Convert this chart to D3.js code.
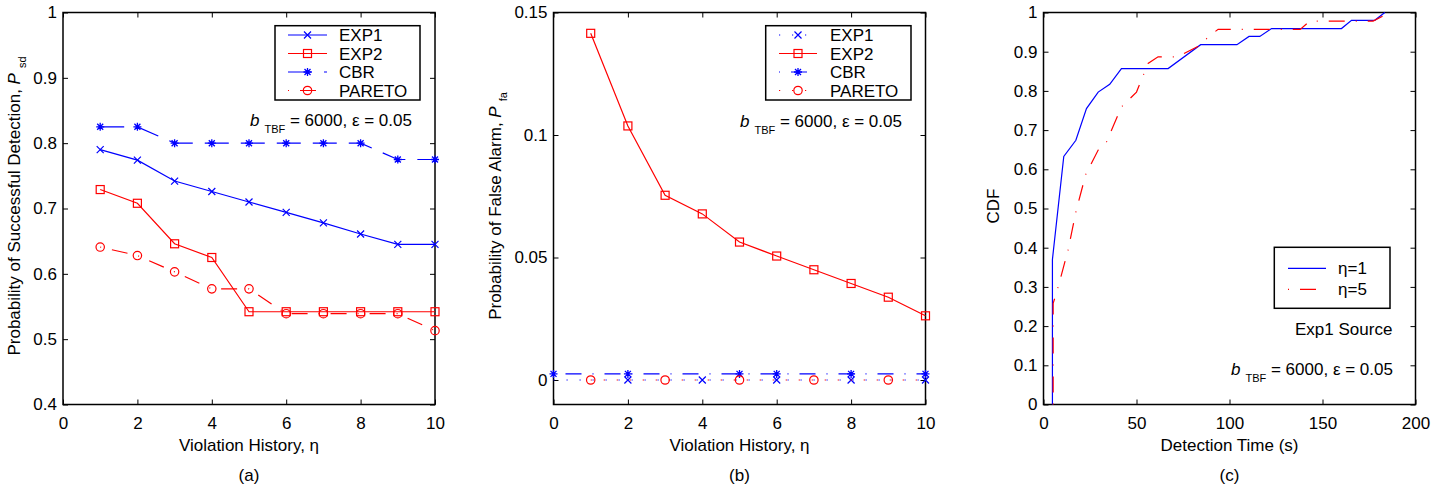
<!DOCTYPE html>
<html>
<head>
<meta charset="utf-8">
<script src="https://cdn.jsdelivr.net/npm/d3@7"></script>
<style>
  body { margin: 0; background: #fff; }
  text { font-family: "Liberation Sans", Arial, sans-serif; }
</style>
</head>
<body>
<svg id="chart" width="1450" height="491"></svg>
<script>
// ---- data ----
// (a) probability of successful detection vs violation history
var eta = [1, 2, 3, 4, 5, 6, 7, 8, 9, 10];
var psdExp1   = [0.790, 0.774, 0.742, 0.726, 0.710, 0.694, 0.678, 0.661, 0.645, 0.645];
var psdExp2   = [0.729, 0.708, 0.646, 0.625, 0.542, 0.542, 0.542, 0.542, 0.542, 0.542];
var psdCbr    = [0.825, 0.825, 0.800, 0.800, 0.800, 0.800, 0.800, 0.800, 0.775, 0.775];
var psdPareto = [0.641, 0.628, 0.603, 0.577, 0.577, 0.539, 0.539, 0.539, 0.539, 0.513];

// (b) probability of false alarm
var etaB = [0, 1, 2, 3, 4, 5, 6, 7, 8, 9, 10];
var pfaExp1   = [0, 0, 0, 0, 0, 0, 0, 0, 0, 0, 0];
var pfaExp2   = [null, 0.1415, 0.1037, 0.0754, 0.0678, 0.0563, 0.0506, 0.0450, 0.0394, 0.0338, 0.0262];
var pfaCbr    = [0.0025, 0.0025, 0.0025, 0.0025, 0.0025, 0.0025, 0.0025, 0.0025, 0.0025, 0.0025, 0.0025];
var pfaPareto = [null, 0, 0, 0, 0, 0, 0, 0, 0, 0, 0];
// where the markers show up in (b)
var markExp1   = [2, 4, 6, 8, 10];
var markExp2   = [1, 2, 3, 4, 5, 6, 7, 8, 9, 10];
var markCbr    = [0, 2, 5, 6, 8, 10];
var markPareto = [1, 3, 5, 7, 9];

// (c) CDF of detection time
var tEta1   = [4.8, 4.8, 10.9, 17.4, 23.1, 29.4, 35.6, 41.9, 67, 84.5, 104, 110.5, 116.3, 122.6, 160.2, 165.6, 178.1, 183.5];
var cdfEta1 = [0, 0.370, 0.633, 0.674, 0.755, 0.797, 0.817, 0.857, 0.857, 0.918, 0.918, 0.939, 0.939, 0.959, 0.959, 0.980, 0.980, 1];
var tEta5   = [5.2, 5.2, 7.9, 13.2, 17.4, 22.7, 29.4, 33.9, 41.9, 50, 56.2, 61.6, 72, 85, 88.5, 93.9, 138, 143.2, 177.2, 186.2];
var cdfEta5 = [0, 0.258, 0.300, 0.394, 0.491, 0.587, 0.649, 0.670, 0.759, 0.797, 0.870, 0.887, 0.887, 0.918, 0.938, 0.957, 0.957, 0.978, 0.978, 1];

// ticks
var etaTicks  = [0, 2, 4, 6, 8, 10];
var psdTicks  = [0.4, 0.5, 0.6, 0.7, 0.8, 0.9, 1];
var pfaTicks  = [0, 0.05, 0.1, 0.15];
var timeTicks = [0, 50, 100, 150, 200];
var cdfTicks  = [0, 0.1, 0.2, 0.3, 0.4, 0.5, 0.6, 0.7, 0.8, 0.9, 1];

var legendNames  = ["EXP1", "EXP2", "CBR", "PARETO"];
var legendNamesC = ["\u03b7=1", "\u03b7=5"];

// ---- drawing ----
var W = 372, H = 392, TOP = 12.5;
var BLUE = "#0000ff", RED = "#ff0000";
var DOT = "1.2,11.8", DASHDOT = "1,11,16,11", DASH = "24,12";
var svg = d3.select("#chart");

function fmt(d) { return String(+d.toFixed(3)); }

function panel(left, xd, yd, xt, yt) {
  var g = svg.append("g").attr("transform", "translate(" + left + "," + TOP + ")");
  var x = d3.scaleLinear().domain(xd).range([0, W]);
  var y = d3.scaleLinear().domain(yd).range([H, 0]);
  g.append("g").attr("class", "axis").attr("transform", "translate(0," + H + ")")
    .call(d3.axisBottom(x).tickValues(xt).tickFormat(fmt).tickSizeInner(-5).tickSizeOuter(0).tickPadding(12));
  g.append("g").attr("class", "axis")
    .call(d3.axisLeft(y).tickValues(yt).tickFormat(fmt).tickSizeInner(-5).tickSizeOuter(0).tickPadding(6));
  g.append("g").attr("class", "axis")
    .call(d3.axisTop(x).tickValues(xt).tickFormat(function() { return ""; }).tickSizeInner(-5).tickSizeOuter(0));
  g.append("g").attr("class", "axis").attr("transform", "translate(" + W + ",0)")
    .call(d3.axisRight(y).tickValues(yt).tickFormat(function() { return ""; }).tickSizeInner(-5).tickSizeOuter(0));
  g.selectAll(".axis .domain").remove();
  g.selectAll(".axis text").attr("font-size", 17).attr("font-family", null).attr("fill", "#000");
  g.selectAll(".axis line").attr("stroke", "#000").attr("stroke-width", 1);
  g.append("rect").attr("width", W).attr("height", H)
    .attr("fill", "none").attr("stroke", "#000").attr("stroke-width", 1.5);
  return { g: g, x: x, y: y };
}

function marker(g, type, cx, cy, color) {
  var s = 4;
  if (type === "x") {
    g.append("path").attr("d", "M" + (cx - 3.5) + "," + (cy - 3.5) + "L" + (cx + 3.5) + "," + (cy + 3.5) +
      "M" + (cx - 3.5) + "," + (cy + 3.5) + "L" + (cx + 3.5) + "," + (cy - 3.5))
      .attr("stroke", color).attr("stroke-width", 1.2).attr("fill", "none");
  } else if (type === "square") {
    g.append("rect").attr("x", cx - s).attr("y", cy - s).attr("width", 2 * s).attr("height", 2 * s)
      .attr("stroke", color).attr("stroke-width", 1.2).attr("fill", "none");
  } else if (type === "circle") {
    g.append("circle").attr("cx", cx).attr("cy", cy).attr("r", 4.2)
      .attr("stroke", color).attr("stroke-width", 1.2).attr("fill", "none");
  } else if (type === "star") {
    var d = "M" + cx + "," + (cy - s) + "L" + cx + "," + (cy + s) +
      "M" + (cx - s) + "," + cy + "L" + (cx + s) + "," + cy +
      "M" + (cx - 3) + "," + (cy - 3) + "L" + (cx + 3) + "," + (cy + 3) +
      "M" + (cx - 3) + "," + (cy + 3) + "L" + (cx + 3) + "," + (cy - 3);
    g.append("path").attr("d", d).attr("stroke", color).attr("stroke-width", 1.3).attr("fill", "none");
  }
}

function series(p, xs, ys, color, dash, mark, markAt) {
  var pts = d3.zip(xs, ys).filter(function(d) { return d[1] != null; });
  var line = d3.line().x(function(d) { return p.x(d[0]); }).y(function(d) { return p.y(d[1]); });
  p.g.append("path").datum(pts).attr("d", line)
    .attr("fill", "none").attr("stroke", color).attr("stroke-width", 1.2)
    .attr("stroke-dasharray", dash);
  if (!mark) return;
  var at = markAt || xs;
  at.forEach(function(v) {
    var i = xs.indexOf(v);
    if (i >= 0 && ys[i] != null) marker(p.g, mark, p.x(xs[i]), p.y(ys[i]), color);
  });
}

function legend(p, box, rows, lx0, lx1, tx, items) {
  var g = p.g.append("g");
  g.append("rect").attr("x", box[0]).attr("y", box[1]).attr("width", box[2]).attr("height", box[3])
    .attr("fill", "#fff").attr("stroke", "#000").attr("stroke-width", 1.5);
  items.forEach(function(it, i) {
    var cy = rows[i];
    g.append("line").attr("x1", lx0).attr("x2", lx1).attr("y1", cy).attr("y2", cy)
      .attr("stroke", it.color).attr("stroke-width", 1.2)
      .attr("stroke-dasharray", it.dash).attr("stroke-dashoffset", it.offset || 0);
    if (it.mark) marker(g, it.mark, (lx0 + lx1) / 2, cy, it.color);
    g.append("text").attr("x", tx).attr("y", cy + 6).attr("font-size", 17).text(it.name);
  });
}

function yLabel(p, x, main, sub) {
  var t = p.g.append("text").attr("transform", "translate(" + x + "," + (H / 2 - 2.5) + ") rotate(-90)")
    .attr("text-anchor", "middle").attr("font-size", 17);
  t.append("tspan").text(main);
  if (sub) {
    t.append("tspan").attr("font-style", "italic").text("P");
    t.append("tspan").attr("font-size", 11).attr("dx", 5).attr("dy", 6).text(sub);
  }
}

function xLabel(p, label, caption) {
  p.g.append("text").attr("x", W / 2).attr("y", H + 46.5).attr("text-anchor", "middle")
    .attr("font-size", 17).text(label);
  p.g.append("text").attr("x", W / 2).attr("y", H + 76.5).attr("text-anchor", "middle")
    .attr("font-size", 17).text(caption);
}

function note(p, x, y) {
  var t = p.g.append("text").attr("x", x).attr("y", y).attr("font-size", 17);
  t.append("tspan").attr("font-style", "italic").text("b");
  t.append("tspan").attr("font-size", 11).attr("dx", 5).attr("dy", 6.5).text("TBF");
  t.append("tspan").attr("dy", -6.5).text(" = 6000, \u03b5 = 0.05");
}

// (a)
var pa = panel(63, [0, 10], [0.4, 1], etaTicks, psdTicks);
series(pa, eta, psdExp1, BLUE, null, "x");
series(pa, eta, psdCbr, BLUE, DASH, "star");
series(pa, eta, psdPareto, RED, DASHDOT, "circle");
series(pa, eta, psdExp2, RED, null, "square");
legend(pa, [212, 13.2, 145, 74.3], [22.5, 41, 59.5, 78], 225, 264, 276, [
  { name: legendNames[0], color: BLUE, dash: null, mark: "x" },
  { name: legendNames[1], color: RED, dash: null, mark: "square" },
  { name: legendNames[2], color: BLUE, dash: DASH, mark: "star" },
  { name: legendNames[3], color: RED, dash: DASHDOT, mark: "circle" }
]);
note(pa, 187, 113.5);
yLabel(pa, -43.5, "Probability of Successful Detection,  ", "sd");
xLabel(pa, "Violation History, \u03b7", "(a)");

// (b)
var pb = panel(553.5, [0, 10], [-0.01, 0.15], etaTicks, pfaTicks);
series(pb, etaB, pfaExp1, BLUE, DOT, "x", markExp1);
series(pb, etaB, pfaCbr, BLUE, DASHDOT, "star", markCbr);
series(pb, etaB, pfaPareto, RED, DOT, "circle", markPareto);
series(pb, etaB, pfaExp2, RED, null, "square", markExp2);
legend(pb, [212.2, 13.2, 145.3, 74.3], [22.5, 41, 59.5, 78], 225.5, 263.5, 276.5, [
  { name: legendNames[0], color: BLUE, dash: DOT, mark: "x" },
  { name: legendNames[1], color: RED, dash: null, mark: "square" },
  { name: legendNames[2], color: BLUE, dash: DASHDOT, mark: "star" },
  { name: legendNames[3], color: RED, dash: DOT, mark: "circle" }
]);
note(pb, 186.5, 114.5);
yLabel(pb, -52.5, "Probability of False Alarm,  ", "fa");
xLabel(pb, "Violation History, \u03b7", "(b)");

// (c)
var pc = panel(1043.5, [0, 200], [0, 1], timeTicks, cdfTicks);
series(pc, tEta1, cdfEta1, BLUE, null, null);
series(pc, tEta5, cdfEta5, RED, DASHDOT, null);
legend(pc, [230.8, 234.8, 115.7, 61], [255.8, 276.8], 244.5, 282.5, 294.5, [
  { name: legendNamesC[0], color: BLUE, dash: null },
  { name: legendNamesC[1], color: RED, dash: DASHDOT }
]);
pc.g.append("text").attr("x", 251.5).attr("y", 322.5).attr("font-size", 17).text("Exp1 Source");
note(pc, 187.5, 362.5);
yLabel(pc, -44.5, "CDF", null);
xLabel(pc, "Detection Time (s)", "(c)");
</script>
</body>
</html>
